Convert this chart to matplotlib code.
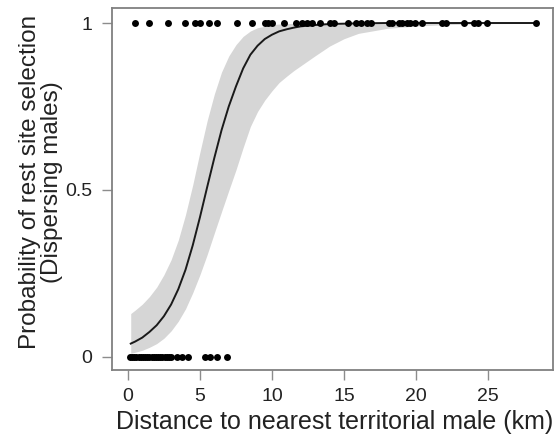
import numpy as np
import matplotlib
matplotlib.use("Agg")
import matplotlib.pyplot as plt

plt.rcParams['font.family'] = ['Liberation Sans', 'DejaVu Sans']

# observed rest sites (y = 1) and non-selected sites (y = 0)
x_selected = [0.49, 1.5, 2.8, 3.96, 4.65, 5.0, 5.6, 6.2, 7.55, 8.6, 9.5, 9.74,
              10.0, 10.8, 11.7, 12.1, 12.4, 12.8, 13.3, 14.0, 14.3, 15.3, 15.8,
              16.2, 16.6, 16.9, 18.1, 18.3, 18.8, 19.0, 19.4, 19.6, 19.9, 20.4,
              21.8, 22.1, 23.3, 24.0, 24.3, 24.9, 28.3]
x_unselected = [0.15, 0.3, 0.45, 0.6, 0.75, 0.9, 1.05, 1.2, 1.35, 1.5, 1.65,
                1.8, 1.95, 2.1, 2.25, 2.4, 2.55, 2.7, 2.85, 3.0, 3.38, 3.73,
                4.19, 5.35, 5.69, 6.16, 6.85]

# fitted probability curve and confidence band
fit_x = [0.2, 0.5, 1.0, 1.5, 2.0, 2.5, 3.0, 3.5, 4.0, 4.5, 5.0, 5.5, 6.0,
         6.5, 7.0, 7.5, 8.0, 8.5, 9.0, 9.5, 10.0, 10.5, 11.0, 11.5, 12.0,
         13, 14, 15, 16, 18, 20, 22, 25, 28.3]
fit_p = [0.040, 0.046, 0.058, 0.075, 0.095, 0.122, 0.157, 0.203, 0.261,
         0.334, 0.418, 0.508, 0.596, 0.679, 0.750, 0.810, 0.864, 0.905,
         0.932, 0.952, 0.965, 0.975, 0.981, 0.986, 0.990, 0.994, 0.997,
         0.998, 0.999, 1.0, 1.0, 1.0, 1.0, 1.0]
fit_hi = [0.130, 0.140, 0.158, 0.181, 0.209, 0.246, 0.291, 0.350, 0.426,
          0.515, 0.613, 0.707, 0.787, 0.853, 0.901, 0.935, 0.960, 0.976,
          0.986, 0.990, 0.995, 0.997, 0.998, 0.999, 0.999, 1.0, 1.0, 1.0,
          1.0, 1.0, 1.0, 1.0, 1.0, 1.0]
fit_lo = [0.011, 0.014, 0.020, 0.029, 0.040, 0.056, 0.078, 0.107, 0.144,
          0.192, 0.246, 0.306, 0.371, 0.435, 0.498, 0.560, 0.627, 0.690,
          0.735, 0.769, 0.797, 0.822, 0.840, 0.857, 0.872, 0.902, 0.931,
          0.953, 0.969, 0.984, 0.991, 0.995, 0.998, 0.999]

xticks = [0, 5, 10, 15, 20, 25]
yticks = [0, 0.5, 1]
ytick_labels = ["0", "0.5", "1"]

fig = plt.figure(figsize=(5.55, 4.36), dpi=100)
ax = fig.add_axes([0.2018, 0.1514, 0.7946, 0.8303])

ax.fill_between(fit_x, fit_lo, fit_hi, color="#d6d6d6", lw=0, zorder=1)
ax.plot(fit_x, fit_p, color="#1a1a1a", lw=1.4, zorder=2)
ax.plot(x_selected, [1] * len(x_selected), "o", color="black", ms=5,
        mec="none", zorder=3)
ax.plot(x_unselected, [0] * len(x_unselected), "o", color="black", ms=5,
        mec="none", zorder=3)

ax.set_xlim(-1.1, 29.5)
ax.set_ylim(-0.039, 1.045)
ax.set_xticks(xticks)
ax.set_yticks(yticks)
ax.set_yticklabels(ytick_labels)

for s in ax.spines.values():
    s.set_color("#808080")
    s.set_linewidth(1.3)
ax.tick_params(axis="both", direction="out", length=7, width=1.0,
               color="#8c8c8c", labelsize=14, labelcolor="#222222")
ax.tick_params(axis="x", pad=6)
ax.tick_params(axis="y", pad=7)

ax.set_xlabel("Distance to nearest territorial male (km)", fontsize=18,
              color="#222222")
ax.set_ylabel("Probability of rest site selection\n(Dispersing males)",
              fontsize=17.5, color="#222222", linespacing=1.0)
ax.yaxis.set_label_coords(-0.111, 0.52)
ax.xaxis.set_label_coords(0.505, -0.11)

fig.savefig("out.png", dpi=100)
